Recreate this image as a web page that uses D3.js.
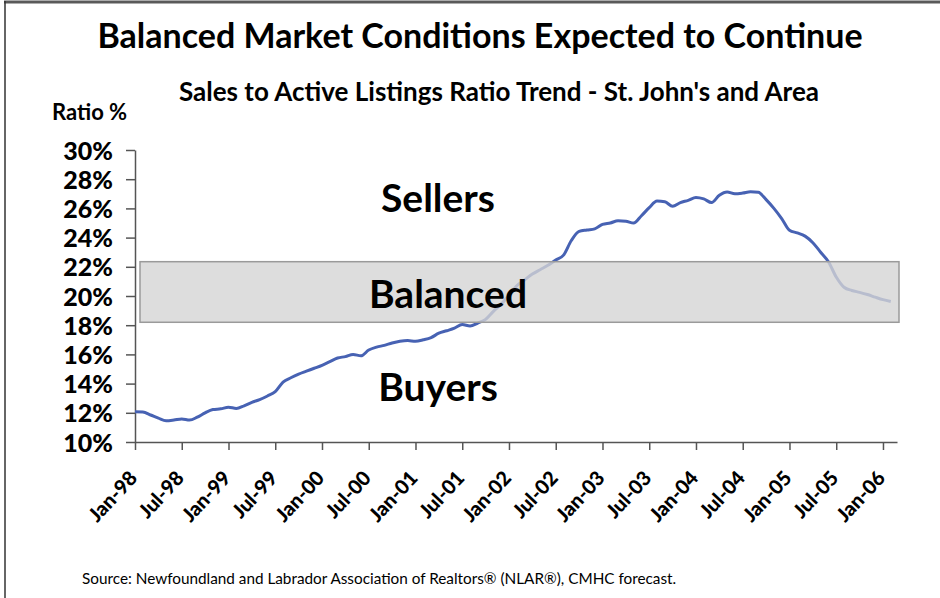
<!DOCTYPE html>
<html>
<head>
<meta charset="utf-8">
<script src="https://cdn.jsdelivr.net/npm/d3@7"></script>
<style>
  body { margin: 0; background: #fff; }
  svg { display: block; font-family: Lato, "DejaVu Sans", sans-serif; }
</style>
</head>
<body>
<svg id="chart"></svg>
<script>
// monthly sales-to-active-listings ratio, Jan-98 .. Feb-06
var ratio = [
  12.07, 12.05, 11.85, 11.63, 11.45, 11.5, 11.58, 11.5, 11.7, 12.0, 12.22, 12.27,
  12.38, 12.3, 12.48, 12.72, 12.9, 13.15, 13.45, 14.1, 14.4, 14.65, 14.85, 15.05,
  15.25, 15.5, 15.75, 15.85, 16.0, 15.9, 16.3, 16.5, 16.62, 16.78, 16.9, 16.95,
  16.9, 17.0, 17.15, 17.45, 17.62, 17.8, 18.05, 17.95, 18.15, 18.4, 18.95, 19.45,
  20.05, 20.7, 21.1, 21.5, 21.8, 22.1, 22.47, 22.8, 23.8, 24.42, 24.52, 24.6,
  24.9, 25.0, 25.15, 25.12, 25.0, 25.5, 26.05, 26.5, 26.45, 26.15, 26.4, 26.55,
  26.75, 26.65, 26.4, 26.9, 27.12, 27.0, 27.05, 27.14, 27.1, 26.6, 26.0, 25.3,
  24.5, 24.32, 24.1, 23.65, 23.0, 22.35, 21.3, 20.6, 20.38, 20.25, 20.1, 19.92,
  19.75, 19.62
];
var xTickLabels = ["Jan-98","Jul-98","Jan-99","Jul-99","Jan-00","Jul-00","Jan-01","Jul-01",
  "Jan-02","Jul-02","Jan-03","Jul-03","Jan-04","Jul-04","Jan-05","Jul-05","Jan-06"];
var yTicks = [10, 12, 14, 16, 18, 20, 22, 24, 26, 28, 30];
var balancedBand = [18.2, 22.35];
var zones = [
  {label: "Sellers", value: 25.75},
  {label: "Balanced", value: 19.15},
  {label: "Buyers", value: 12.8}
];

var W = 940, H = 598;
var margin = {top: 150, right: 44, bottom: 156, left: 135},
    width = W - margin.left - margin.right,
    height = H - margin.top - margin.bottom;

var svg = d3.select("#chart").attr("width", W).attr("height", H);

// frame
svg.append("line").attr("x1", 4).attr("x2", W).attr("y1", 2).attr("y2", 2)
  .attr("stroke", "#5a5a5a").attr("stroke-width", 3);
svg.append("line").attr("x1", 5).attr("x2", 5).attr("y1", 1).attr("y2", H)
  .attr("stroke", "#333").attr("stroke-width", 1.5);

svg.append("text").attr("x", 480).attr("y", 48).attr("text-anchor", "middle")
  .style("font-weight", "bold").style("font-size", "34px")
  .text("Balanced Market Conditions Expected to Continue");
svg.append("text").attr("x", 499).attr("y", 101).attr("text-anchor", "middle")
  .style("font-weight", "bold").style("font-size", "26px")
  .text("Sales to Active Listings Ratio Trend - St. John's and Area");
svg.append("text").attr("x", 52).attr("y", 120)
  .style("font-weight", "bold").style("font-size", "22px")
  .text("Ratio %");
svg.append("text").attr("x", 82).attr("y", 584)
  .style("font-size", "15.3px")
  .text("Source: Newfoundland and Labrador Association of Realtors\u00AE (NLAR\u00AE), CMHC forecast.");

var g = svg.append("g").attr("transform", "translate(" + margin.left + "," + margin.top + ")");

var x = d3.scaleLinear().domain([0, 97.8]).range([0, 762]);
var y = d3.scaleLinear().domain([10, 30]).range([height, 0]);

var xAxis = g.append("g")
  .attr("transform", "translate(0," + height + ")")
  .call(d3.axisBottom(x)
    .tickValues(xTickLabels.map((d, i) => i * 6))
    .tickFormat((d, i) => xTickLabels[i])
    .tickSize(8).tickSizeOuter(0))
  .attr("font-family", null);
xAxis.select(".domain").attr("stroke", "#555").attr("stroke-width", 1.5);
xAxis.selectAll(".tick line").attr("stroke", "#555").attr("stroke-width", 1.5);
xAxis.selectAll("text")
  .attr("y", 0).attr("dy", 0)
  .attr("transform", "translate(3,37)rotate(-47)")
  .style("text-anchor", "end")
  .style("font-weight", "900").style("font-size", "20px")
  .attr("fill", "#000");

var yAxis = g.append("g")
  .call(d3.axisLeft(y)
    .tickValues(yTicks)
    .tickFormat(d => d + "%")
    .tickSize(9).tickSizeOuter(0))
  .attr("font-family", null);
yAxis.select(".domain").attr("stroke", "#555").attr("stroke-width", 1.5);
yAxis.selectAll(".tick line").attr("stroke", "#555").attr("stroke-width", 1.5);
yAxis.selectAll("text")
  .attr("x", -22).attr("dy", "0.36em")
  .style("font-weight", "900").style("font-size", "25px")
  .attr("fill", "#000");

var line = d3.line()
  .x((d, i) => x(i))
  .y(d => y(d))
  .curve(d3.curveMonotoneX);

g.append("path")
  .datum(ratio)
  .attr("fill", "none")
  .attr("stroke", "#4762b3")
  .attr("stroke-width", 3)
  .attr("stroke-linejoin", "round")
  .attr("d", line);

// balanced band sits over the line (semi transparent)
g.append("rect")
  .attr("x", 5)
  .attr("width", 764 - 5)
  .attr("y", y(balancedBand[1]))
  .attr("height", y(balancedBand[0]) - y(balancedBand[1]))
  .attr("fill", "#d4d4d4").attr("fill-opacity", 0.8)
  .attr("stroke", "#9a9a9a").attr("stroke-width", 1.5);

g.selectAll(".zone")
  .data(zones)
  .enter().append("text")
  .attr("class", "zone")
  .attr("x", (d, i) => i == 1 ? 313 : 303)
  .attr("y", d => y(d.value))
  .attr("text-anchor", "middle")
  .style("font-weight", "bold")
  .style("font-size", "39px")
  .text(d => d.label);
</script>
</body>
</html>
